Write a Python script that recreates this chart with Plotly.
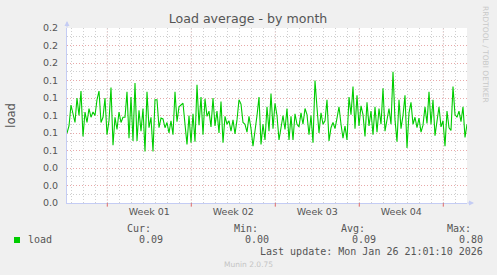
import numpy as np
import pandas as pd
import plotly.graph_objects as go

# ---- data ----
title = "Load average - by month"
y_title = "load"
series_name = "load"
range_start = "2025-12-24 15:24:00"
range_end = "2026-01-26 23:24:00"
week_lines = ["2025-12-28", "2026-01-04", "2026-01-11", "2026-01-18", "2026-01-25"]
week_label_pos = ["2025-12-31 12:00", "2026-01-07 12:00", "2026-01-14 12:00", "2026-01-21 12:00"]
week_labels = ["Week 01", "Week 02", "Week 03", "Week 04"]
y_ticks = [0.0, 0.02, 0.04, 0.06, 0.08, 0.10, 0.12, 0.14, 0.16, 0.18, 0.20]

load_part1 = [0.080, 0.088, 0.112, 0.100, 0.092, 0.120, 0.100, 0.128, 0.076, 0.104,
              0.092, 0.108, 0.098, 0.104, 0.100, 0.118, 0.128, 0.092, 0.098, 0.120,
              0.078, 0.094, 0.132, 0.066, 0.098, 0.084, 0.104, 0.092, 0.098]
load_part2 = [0.098, 0.127, 0.074, 0.121, 0.071, 0.137, 0.071, 0.106, 0.082, 0.108,
              0.059, 0.127, 0.086, 0.098, 0.059, 0.118, 0.118, 0.086, 0.097, 0.096,
              0.086, 0.092, 0.080, 0.094, 0.078, 0.127, 0.093, 0.110, 0.112]
load_part3 = [0.114, 0.090, 0.067, 0.100, 0.069, 0.102, 0.070, 0.135, 0.089, 0.121,
              0.078, 0.119, 0.099, 0.105, 0.087, 0.120, 0.088, 0.105, 0.080, 0.116,
              0.069, 0.099, 0.090, 0.094, 0.082, 0.095, 0.079, 0.095, 0.118]
load_part4 = [0.113, 0.092, 0.090, 0.081, 0.099, 0.085, 0.065, 0.080, 0.100, 0.121,
              0.067, 0.090, 0.072, 0.110, 0.082, 0.125, 0.085, 0.114, 0.100, 0.072,
              0.087, 0.100, 0.084, 0.108, 0.072, 0.099, 0.072, 0.102, 0.090]
load_part5 = [0.087, 0.103, 0.090, 0.108, 0.101, 0.078, 0.100, 0.069, 0.140, 0.109,
              0.080, 0.103, 0.090, 0.094, 0.118, 0.071, 0.086, 0.092, 0.085, 0.097,
              0.110, 0.090, 0.074, 0.088, 0.072, 0.121, 0.101, 0.133, 0.085]
load_part6 = [0.123, 0.088, 0.111, 0.101, 0.076, 0.115, 0.088, 0.105, 0.078, 0.110,
              0.081, 0.108, 0.090, 0.131, 0.082, 0.097, 0.108, 0.090, 0.150, 0.095,
              0.070, 0.118, 0.085, 0.100, 0.123, 0.063, 0.103, 0.115, 0.090]
load_part7 = [0.098, 0.086, 0.097, 0.081, 0.089, 0.110, 0.091, 0.127, 0.090, 0.118,
              0.077, 0.095, 0.110, 0.087, 0.094, 0.065, 0.105, 0.086, 0.083, 0.133,
              0.101, 0.098, 0.105, 0.093, 0.110, 0.075, 0.090]

legend_cur, legend_min, legend_avg, legend_max = "0.09", "0.00", "0.09", "0.80"
last_update = "Last update: Mon Jan 26 21:01:10 2026"
footer = "Munin 2.0.75"
side_text = "RRDTOOL / TOBI OETIKER"

load = load_part1 + load_part2 + load_part3 + load_part4 + load_part5 + load_part6 + load_part7
times = pd.date_range(range_start, range_end, periods=len(load))

# ---- geometry helpers (pixel -> paper) ----
L, R, T, B = 67, 30, 28, 72
W, H = 497, 275
PW, PH = W - L - R, H - T - B
def px(x):
    return (x - L) / PW
def py(y):
    return (H - B - y) / PH

GREEN = "#00CC00"
TXT = "#555555"
MAJ = "#e8a8a8"
MIN = "#cfcfcf"
AXC = "#c4ccf4"

fig = go.Figure()
fig.add_trace(go.Scatter(x=times, y=load, mode="lines",
                         line=dict(color=GREEN, width=1.1), showlegend=False,
                         hoverinfo="skip"))

fig.update_layout(
    width=W, height=H,
    margin=dict(l=L, r=R, t=T, b=B, pad=0),
    paper_bgcolor="#F0F0F0", plot_bgcolor="#FFFFFF",
    font=dict(family="DejaVu Sans", color=TXT, size=9.5),
    title=dict(text=title, x=248 / W, xanchor="center",
               y=1 - 19 / H, yanchor="middle",
               font=dict(family="DejaVu Sans", size=12.6, color=TXT)),
    showlegend=False,
)

fig.update_xaxes(
    type="date", range=[range_start, range_end],
    tickmode="array", tickvals=week_label_pos, ticktext=week_labels,
    ticks="", showgrid=False, zeroline=False,
    showline=True, linecolor=AXC, linewidth=1,
    tickfont=dict(family="DejaVu Sans", size=9.5, color=TXT),
    ticklabelstandoff=0,
    minor=dict(tickmode="linear", tick0="2025-12-28", dtick=86400000,
               showgrid=True, gridcolor=MIN, griddash="1px,2px", gridwidth=1),
)
fig.update_yaxes(
    range=[0, 0.2], tickmode="array", tickvals=y_ticks, tickformat=".1f",
    ticks="", showgrid=True, gridcolor=MAJ, griddash="1px,2px", gridwidth=1,
    zeroline=False, showline=True, linecolor=AXC, linewidth=1,
    tickfont=dict(family="DejaVu Sans", size=9.5, color=TXT),
    ticklabelstandoff=6,
    minor=dict(tickmode="linear", tick0=0.01, dtick=0.02,
               showgrid=True, gridcolor=MIN, griddash="1px,2px", gridwidth=1),
    title=dict(text=y_title, standoff=24,
               font=dict(family="DejaVu Sans", size=11.5, color=TXT)),
)

# weekly major grid lines + small ticks below axis
for d in week_lines:
    fig.add_shape(type="line", xref="x", yref="paper", x0=d, x1=d, y0=-0.02, y1=1,
                  line=dict(color=MAJ, width=1, dash="1px,2px"), layer="below")
    fig.add_shape(type="line", xref="x", yref="paper", x0=d, x1=d, y0=-0.02, y1=0,
                  line=dict(color="#e07070", width=1))

# axis arrows
fig.add_annotation(xref="paper", yref="paper", x=0, y=py(21), ax=0, ay=8,
                   showarrow=True, arrowhead=2, arrowsize=1, arrowwidth=1,
                   arrowcolor=AXC, text="")
fig.add_annotation(xref="paper", yref="paper", x=px(474), y=0, ax=-8, ay=0,
                   showarrow=True, arrowhead=2, arrowsize=1, arrowwidth=1,
                   arrowcolor=AXC, text="")

mono = dict(family="DejaVu Sans Mono", size=10, color=TXT)
def ann(text, x, y, anchor, font=mono):
    fig.add_annotation(xref="paper", yref="paper", x=px(x), y=py(y), text=text,
                       showarrow=False, xanchor=anchor, yanchor="middle",
                       font=font, borderpad=0)

ann("Cur:", 126, 228, "left")
ann("Min:", 232.5, 228, "left")
ann("Avg:", 339.5, 228, "left")
ann("Max:", 446, 228, "left")
ann(series_name, 26.5, 239.5, "left")
ann(legend_cur, 163.5, 239.5, "right")
ann(legend_min, 270, 239.5, "right")
ann(legend_avg, 377, 239.5, "right")
ann(legend_max, 483.5, 239.5, "right")
ann(last_update, 483.5, 251, "right")
ann(footer, 248, 264, "center", font=dict(family="DejaVu Sans", size=7.5, color="#c4c4c4"))

fig.add_annotation(xref="paper", yref="paper", x=px(486), y=py(54), text=side_text,
                   showarrow=False, textangle=90, xanchor="center", yanchor="middle",
                   font=dict(family="DejaVu Sans", size=7.5, color="#c8c8c8"))

fig.add_shape(type="rect", xref="paper", yref="paper",
              x0=px(14), x1=px(20), y0=py(243), y1=py(237),
              fillcolor=GREEN, line=dict(width=0))

fig.write_html("out.html")
